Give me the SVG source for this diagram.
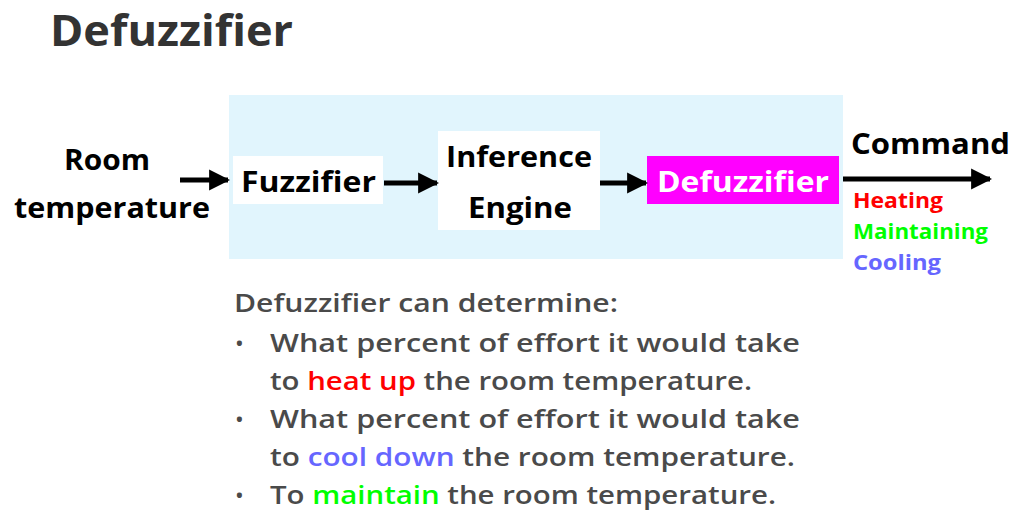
<svg xmlns="http://www.w3.org/2000/svg" width="1024" height="527" viewBox="0 0 1024 527">
<defs>
<style>
text{font-family:"Open Sans",Lato,"Liberation Sans",sans-serif;font-weight:bold;font-variant-ligatures:none}
.t{font-size:29px;fill:#000}
.b{font-size:25px;fill:#4a4a4a;font-weight:600}
.c{font-size:21px}
.d{font-size:18px;fill:#4a4a4a}
</style>
<marker id="ah" viewBox="0 0 10 10" refX="9" refY="5" markerWidth="4.2" markerHeight="4.4" markerUnits="strokeWidth" orient="auto">
<path d="M0,0 L10,5 L0,10 z" fill="#000"/>
</marker>
</defs>
<rect width="1024" height="527" fill="#fff"/>
<text x="50" y="46" style="font-size:43px;fill:#333" textLength="243" lengthAdjust="spacingAndGlyphs">Defuzzifier</text>
<rect x="229" y="95" width="614" height="164" fill="#E1F5FD"/>
<g id="room"><text class="t" x="64" y="170" textLength="86" lengthAdjust="spacingAndGlyphs">Room</text><text class="t" x="14" y="218" textLength="196" lengthAdjust="spacingAndGlyphs">temperature</text></g>
<g id="fuzzifier"><rect x="233" y="156" width="150" height="48" fill="#fff"/><text class="t" x="241" y="192" textLength="135" lengthAdjust="spacingAndGlyphs">Fuzzifier</text></g>
<g id="inference"><rect x="438" y="131" width="162" height="99" fill="#fff"/><text class="t" x="446" y="167" textLength="146" lengthAdjust="spacingAndGlyphs">Inference</text><text class="t" x="468" y="218" textLength="104" lengthAdjust="spacingAndGlyphs">Engine</text></g>
<g id="defuzzifier"><rect x="647" y="156" width="192" height="48" fill="#FF00FF"/><text class="t" x="657" y="192" style="fill:#fff" textLength="172" lengthAdjust="spacingAndGlyphs">Defuzzifier</text></g>
<g id="command"><text class="t" x="851" y="154" textLength="159" lengthAdjust="spacingAndGlyphs">Command</text>
<text class="c" x="853" y="208" fill="#FF0000" textLength="90" lengthAdjust="spacingAndGlyphs">Heating</text>
<text class="c" x="853" y="239" fill="#00FF00" textLength="135" lengthAdjust="spacingAndGlyphs">Maintaining</text>
<text class="c" x="853" y="270" fill="#6666FF" textLength="88" lengthAdjust="spacingAndGlyphs">Cooling</text></g>
<g id="connectors" stroke="#000" stroke-width="5" fill="none">
<line x1="180" y1="180" x2="228" y2="180" marker-end="url(#ah)"/>
<line x1="384" y1="183" x2="437" y2="183" marker-end="url(#ah)"/>
<line x1="600" y1="183" x2="646" y2="183" marker-end="url(#ah)"/>
<line x1="843" y1="179" x2="990" y2="179" marker-end="url(#ah)"/>
</g>
<g id="notes">
<text class="b" x="234" y="312" textLength="384" lengthAdjust="spacingAndGlyphs">Defuzzifier can determine:</text>
<text class="d" x="236" y="350">•</text>
<text class="b" x="270" y="352" textLength="530" lengthAdjust="spacingAndGlyphs">What percent of effort it would take</text>
<text class="b" x="270" y="390" textLength="482" lengthAdjust="spacingAndGlyphs">to <tspan fill="#FF0000">heat up</tspan> the room temperature.</text>
<text class="d" x="236" y="426">•</text>
<text class="b" x="270" y="428" textLength="530" lengthAdjust="spacingAndGlyphs">What percent of effort it would take</text>
<text class="b" x="270" y="466" textLength="525" lengthAdjust="spacingAndGlyphs">to <tspan fill="#6666FF">cool down</tspan> the room temperature.</text>
<text class="d" x="236" y="502">•</text>
<text class="b" x="270" y="504" textLength="506" lengthAdjust="spacingAndGlyphs">To <tspan fill="#00FF00">maintain</tspan> the room temperature.</text>
</g>
</svg>
